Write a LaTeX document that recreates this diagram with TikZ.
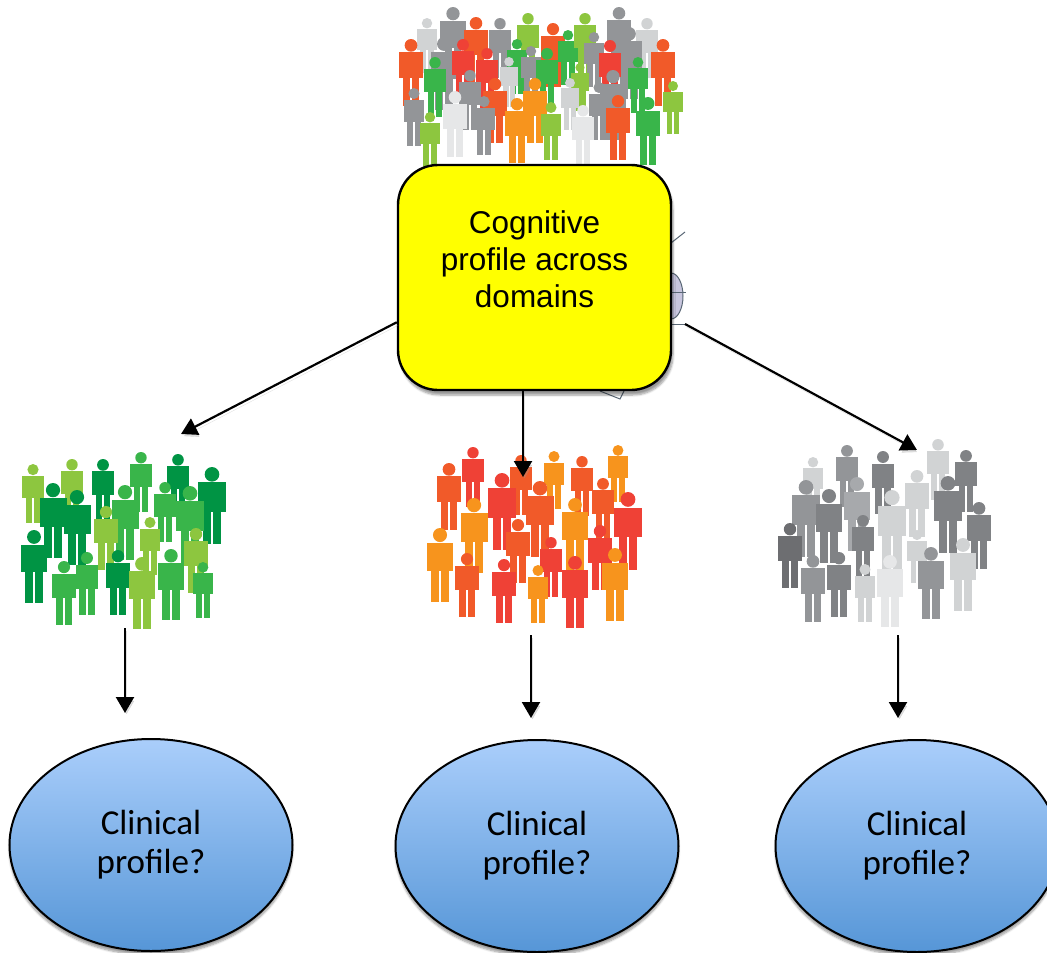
\documentclass[tikz,border=0pt]{standalone}
\usepackage{fontspec}
\setmainfont{Liberation Sans}
\newfontfamily\clinfont{Carlito}
\usetikzlibrary{arrows.meta,positioning,shapes.geometric,shadows.blur}

\definecolor{poporange}{RGB}{241,90,41}
\definecolor{popred}{RGB}{239,65,54}
\definecolor{popamber}{RGB}{247,148,29}
\definecolor{poplime}{RGB}{141,198,63}
\definecolor{popgreen}{RGB}{57,181,74}
\definecolor{popforest}{RGB}{0,148,68}
\definecolor{popgray}{RGB}{147,149,152}
\definecolor{popslate}{RGB}{128,130,133}
\definecolor{popcharcoal}{RGB}{109,110,113}
\definecolor{popsilver}{RGB}{167,169,172}
\definecolor{popmist}{RGB}{209,211,212}
\definecolor{popwhite}{RGB}{230,231,232}
\definecolor{cogyellow}{RGB}{255,255,0}
\definecolor{clintop}{RGB}{170,206,251}
\definecolor{clinbot}{RGB}{86,150,215}
\definecolor{ghostfill}{RGB}{200,198,222}
\definecolor{ghostline}{RGB}{90,104,118}

\tikzset{
  cogbox/.style={rectangle,rounded corners=40pt,draw=black,line width=2.4pt,
                 fill=cogyellow,minimum width=273pt,minimum height=225pt,
                 blur shadow={shadow xshift=2pt,shadow yshift=-5pt,shadow blur steps=6}},
  cogtext/.style={anchor=north,inner sep=0pt,align=center,
                  font=\fontsize{31.5}{37}\selectfont},
  clin/.style={ellipse,draw=black,line width=2pt,top color=clintop,
               bottom color=clinbot,minimum width=283pt,minimum height=212pt,
               inner sep=0pt,align=center,font=\clinfont\fontsize{35}{39}\selectfont,
               blur shadow={shadow xshift=0pt,shadow yshift=-4pt,shadow blur steps=6}},
  arr/.style={-{Triangle[length=16pt,width=18pt]},line width=2.2pt,
              preaction={draw=black!40,opacity=0.3,
                         transform canvas={shift={(1.5pt,-3pt)}}}},
  ghost/.style={draw=ghostline,line width=1pt},
  person/.pic={
    \fill (0,0.095) circle (0.095);
    \fill (-0.18,0.2) rectangle (0.18,0.58);
    \fill (-0.12,0.5) rectangle (-0.01,1);
    \fill (0.01,0.5) rectangle (0.12,1);
  },
}

\begin{document}
\begin{tikzpicture}[x=1pt,y=-1pt]
  \useasboundingbox (0,0) rectangle (1047,953);

  % whole population
  \foreach \x/\y/\h/\c in {427/18/55/popmist, 453/7/70/popgray, 476/17/66/poporange,
      500/18/60/popgray, 528/13/60/poplime, 553/23/64/poporange, 568/30/55/popgreen,
      585/13/60/poplime, 619/7/66/popgray, 647/18/60/popmist, 629/27/72/popgray,
      594/32/55/popgray, 411/39/67/poporange, 444/37/73/popgray, 463/39/62/popred,
      487/48/60/popred, 517/39/55/popgreen, 531/46/55/popgray, 547/48/62/popgreen,
      509/57/50/popmist, 610/40/63/popred, 663/39/67/poporange, 638/57/56/popgreen,
      435/57/60/popgreen, 580/63/48/poplime, 470/70/60/popgray, 495/78/65/poporange,
      535/78/65/popamber, 570/78/52/popmist, 599/82/58/popgray, 613/70/70/popgray,
      673/81/53/poplime, 414/88/58/popgray, 455/91/66/popwhite, 484/96/59/popgray,
      517/98/65/popamber, 551/102/58/poplime, 583/105/60/popwhite, 618/95/65/poporange,
      648/97/68/popgreen, 430/112/55/poplime}
    \pic[fill=\c,scale=\h] at (\x,\y) {person};

  % shape sitting behind the box
  \filldraw[ghost,fill=ghostfill] (671,296) ellipse (12 and 23);
  \draw[ghost] (671,243) -- (685,232);
  \draw[ghost] (671,292) -- (686,292);
  \draw[ghost] (671,324) -- (685,324);
  \draw[ghost] (600,391) -- (620,399) -- (624,391);
  \coordinate (tail) at (685,324);

  \node[cogbox] (cog) at (534.5,277.5) {};
  \node[cogtext] (cogtext) at (534.5,210) {Cognitive\\profile across\\domains};

  % the three subgroups
  \foreach \x/\y/\h/\c in {33/464/59/poplime, 72/459/60/poplime, 103/459/62/popforest,
      141/452/60/popgreen, 178/454/61/popforest, 212/467/77/popforest, 53/483/75/popforest,
      77/490/75/popforest, 125/485/75/popgreen, 165/482/60/popgreen, 190/486/77/popgreen,
      106/506/64/poplime, 150/517/58/poplime, 196/528/65/poplime, 34/530/73/popforest,
      64/561/64/popgreen, 87/552/63/popgreen, 118/550/65/popforest, 142/557/72/poplime,
      171/549/71/popgreen, 203/562/56/popgreen}
    \pic[fill=\c,scale=\h] at (\x,\y) {person};
  \foreach \x/\y/\h/\c in {473/447/60/popred, 449/463/67/poporange, 521/455/60/poporange,
      554/451/58/popamber, 618/445/57/popamber, 582/456/60/poporange, 502/473/77/popred,
      540/481/76/poporange, 603/478/62/poporange, 628/492/78/popred, 474/498/75/popamber,
      575/498/72/popamber, 518/519/64/poporange, 440/528/74/popamber, 551/537/60/popred,
      600/525/65/popred, 467/553/64/poporange, 504/559/64/popred, 538/565/58/popamber,
      575/556/72/popred, 615/548/73/popamber}
    \pic[fill=\c,scale=\h] at (\x,\y) {person};
  \foreach \x/\y/\h/\c in {813/457/55/popmist, 847/445/62/popgray, 883/451/63/popslate,
      938/439/61/popmist, 966/450/62/popslate, 806/480/77/popgray, 829/489/74/popslate,
      857/477/74/popsilver, 892/490/80/popmist, 917/470/67/popmist, 948/476/77/popslate,
      979/502/67/popslate, 790/523/65/popcharcoal, 863/515/62/popslate, 917/530/53/popmist,
      813/555/67/popgray, 839/552/65/popslate, 865/564/58/popmist, 890/555/72/popwhite,
      931/547/72/popgray, 963/538/73/popmist}
    \pic[fill=\c,scale=\h] at (\x,\y) {person};

  \coordinate (greenin) at (181,434);
  \coordinate (orangein) at (523,477);
  \coordinate (grayin) at (917,450);
  \coordinate (greenout) at (125,628);
  \coordinate (orangeout) at (531,635);
  \coordinate (grayout) at (898,635);
  \coordinate (greentip) at (125,713);
  \coordinate (orangetip) at (531,718);
  \coordinate (graytip) at (898,718);

  \node[clin] (clinA) at (151,845) {Clinical\\profile?};
  \node[clin] (clinB) at (537,846) {Clinical\\profile?};
  \node[clin] (clinC) at (917,846) {Clinical\\profile?};

  \draw[arr] (cog.198) -- (greenin);
  \draw[arr] (cog.south -| orangein) -- (orangein);
  \draw[arr] (tail) -- (grayin);
  \draw[arr] (greenout) -- (greentip);
  \draw[arr] (orangeout) -- (orangetip);
  \draw[arr] (grayout) -- (graytip);
\end{tikzpicture}
\end{document}
